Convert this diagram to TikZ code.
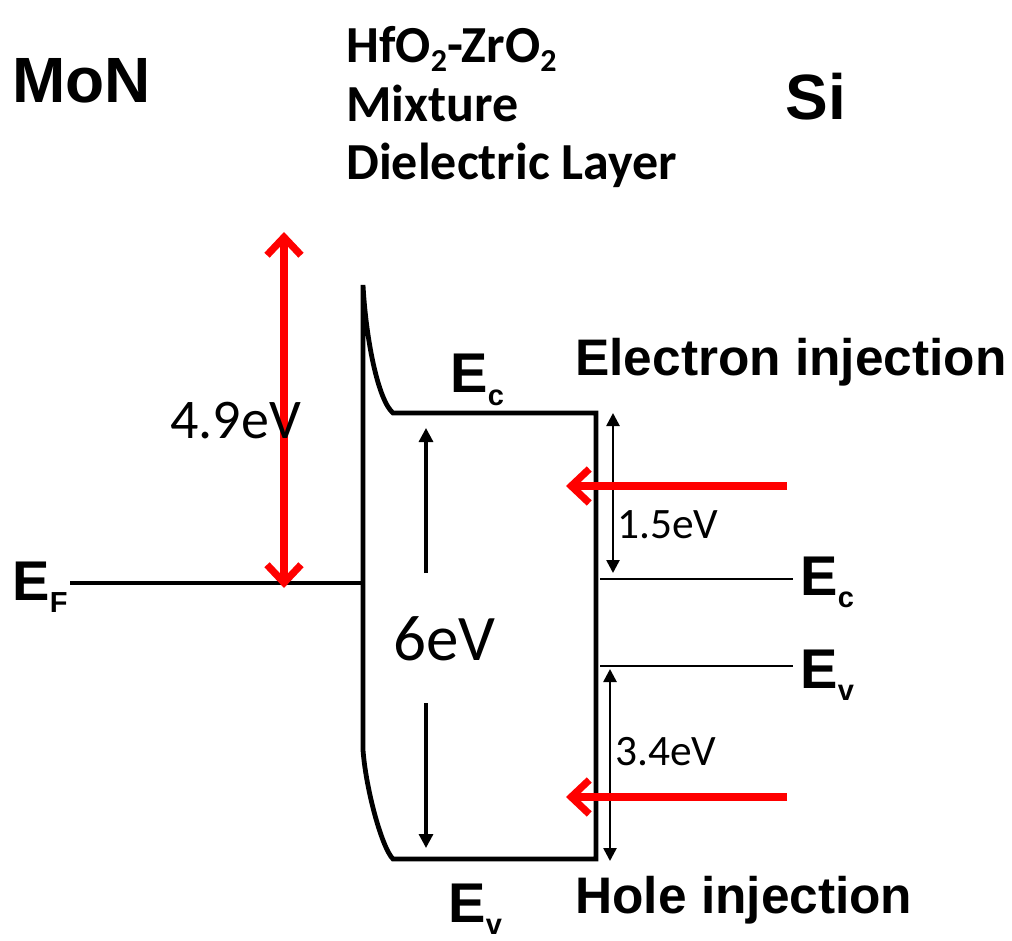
\documentclass[tikz,border=0pt]{standalone}
\usepackage{fontspec}
\setmainfont{Liberation Sans}
\newfontfamily\calfont{Carlito}
\usetikzlibrary{arrows.meta}

\newcommand{\Elev}[1]{E\raisebox{-6pt}{\fontsize{14.5}{14.5}\selectfont #1}}
\newcommand{\dsub}[1]{\raisebox{-4.5pt}{\fontsize{16}{16}\selectfont #1}}

\begin{document}
\begin{tikzpicture}[x=0.5pt,y=-0.5pt,
  lbl/.style={inner sep=0pt,anchor=base west,font=\bfseries\fontsize{28}{28}\selectfont},
  big/.style={lbl,font=\bfseries\fontsize{32}{32}\selectfont},
  inj/.style={lbl,font=\bfseries\fontsize{25.7}{25.7}\selectfont},
  diel/.style={inner sep=0pt,anchor=base west,font=\calfont\bfseries\fontsize{26}{26}\selectfont},
  eV/.style={inner sep=0pt,anchor=base west,font=\calfont\fontsize{28}{28}\selectfont},
  band/.style={line width=2.4pt,line join=miter},
  level/.style={line width=1.4pt},
  gaparr/.style={line width=1.6pt,-{Triangle[length=7pt,width=7pt]}},
  redarr/.style={draw=red,line width=3.6pt,-{Straight Barb[length=9pt,width=17pt]}}]
\useasboundingbox (0,0) rectangle (1012,941);

% materials
\node[big] (mon) at (12,103) {MoN};
\node[big] (si) at (785,120) {Si};
\node[diel] (diel1) at (346,63) {HfO\dsub{2}-ZrO\dsub{2}};
\node[diel] (diel2) at (346,122) {Mixture};
\node[diel] (diel3) at (346,180) {Dielectric Layer};

% dielectric bands
\coordinate (dTop) at (363,285);
\coordinate (dLow) at (363,750);
\coordinate (cbL) at (393,413);
\coordinate (cbR) at (596,413);
\coordinate (vbL) at (393,859);
\coordinate (vbR) at (596,859);
\draw[band] (cbL) .. controls (378,400) and (366,340) .. (dTop) -- (dLow)
  .. controls (366,790) and (382,848) .. (vbL) -- (vbR) -- (cbR) -- cycle;
\node[lbl] (dEc) at (450,393) {\Elev{c}};
\node[lbl] (dEv) at (448,922) {\Elev{v}};

\node[eV,font=\calfont\fontsize{32.5}{32.5}\selectfont] (gap) at (393,660) {6eV};
\coordinate (gapUp) at (426,573); \coordinate (gapCb) at (426,428);
\coordinate (gapDn) at (426,703); \coordinate (gapVb) at (426,848);
\draw[gaparr] (gapUp) -- (gapCb);
\draw[gaparr] (gapDn) -- (gapVb);

% metal side
\node[lbl] (ef) at (12,600) {\Elev{F}};
\coordinate (efL) at (70,583);
\coordinate (efR) at (363,583);
\draw[line width=2.2pt] (efL) -- (efR);
\coordinate (wfTop) at (284,232);
\coordinate (wfBot) at (284,588);
\draw[redarr,{Straight Barb[length=9pt,width=17pt]}-{Straight Barb[length=9pt,width=17pt]}] (wfTop) -- (wfBot);
\node[eV] (wf) at (170,438) {4.9eV};

% silicon side
\coordinate (siEcL) at (600,579); \coordinate (siEcR) at (793,579);
\coordinate (siEvL) at (600,666); \coordinate (siEvR) at (793,666);
\draw[level] (siEcL) -- (siEcR);
\draw[level] (siEvL) -- (siEvR);
\node[lbl] (siEc) at (800,595) {\Elev{c}};
\node[lbl] (siEv) at (800,688) {\Elev{v}};

\coordinate (ebTop) at (613,413); \coordinate (ebBot) at (613,573);
\coordinate (hbTop) at (610,669); \coordinate (hbBot) at (610,861);
\draw[gaparr,line width=1.3pt,{Triangle[length=6.5pt,width=6.5pt]}-{Triangle[length=6.5pt,width=6.5pt]}] (ebTop) -- (ebBot);
\draw[gaparr,line width=1.3pt,{Triangle[length=6.5pt,width=6.5pt]}-{Triangle[length=6.5pt,width=6.5pt]}] (hbTop) -- (hbBot);
\node[eV,font=\calfont\fontsize{21.7}{21.7}\selectfont] (eb) at (617,538) {1.5eV};
\node[eV,font=\calfont\fontsize{21.7}{21.7}\selectfont] (hb) at (615,765) {3.4eV};

% injection
\coordinate (eInS) at (787,486); \coordinate (eInT) at (566,486);
\coordinate (hInS) at (787,797); \coordinate (hInT) at (566,797);
\draw[redarr] (eInS) -- (eInT);
\draw[redarr] (hInS) -- (hInT);
\node[inj] (einj) at (575,375) {Electron injection};
\node[inj] (hinj) at (575,913) {Hole injection};
\end{tikzpicture}
\end{document}
